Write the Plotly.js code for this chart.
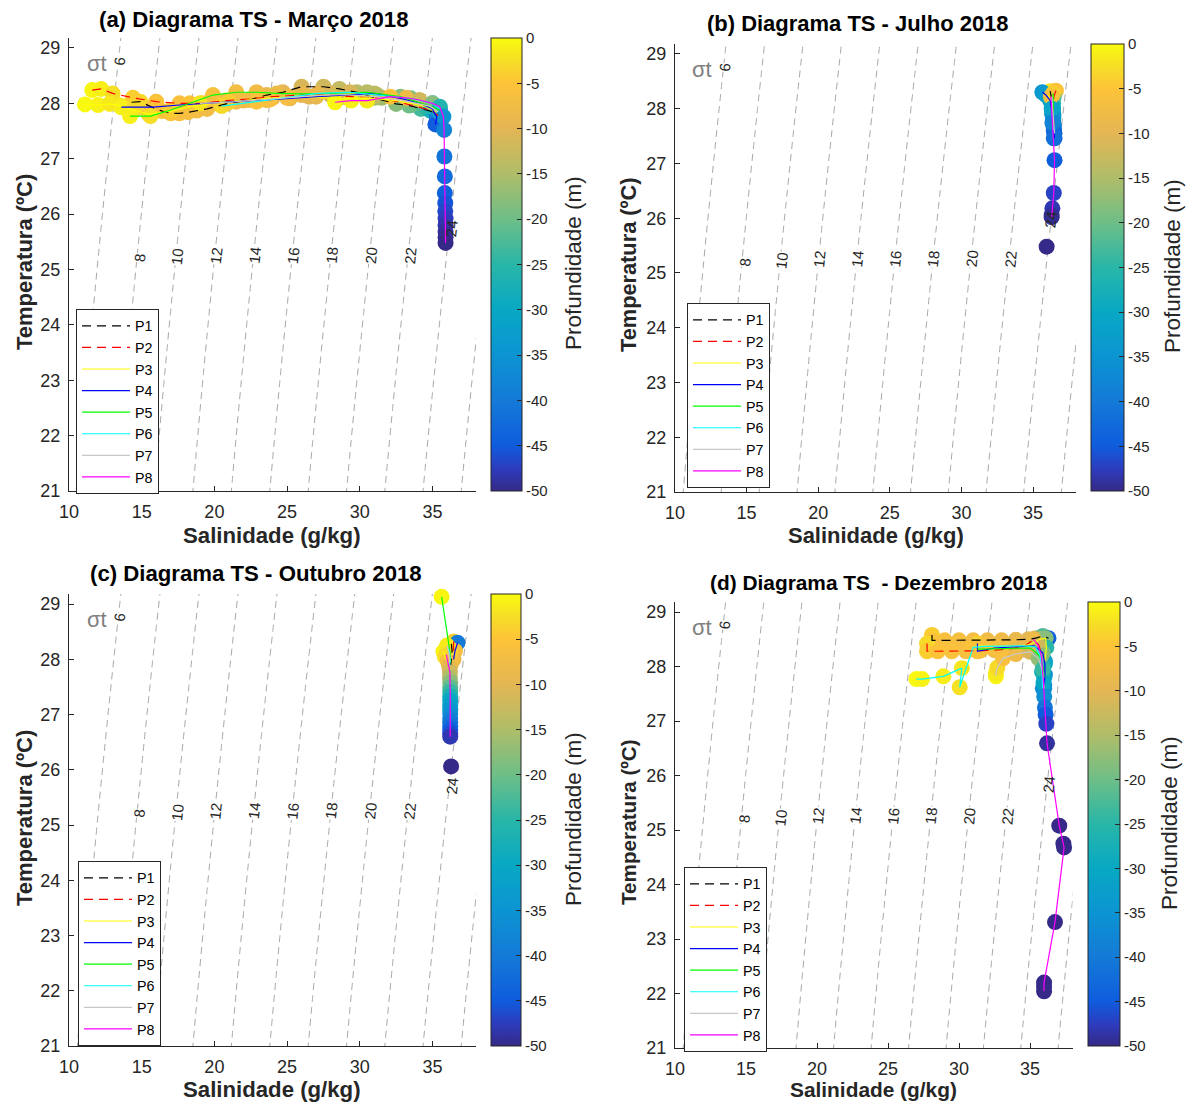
<!DOCTYPE html>
<html><head><meta charset="utf-8">
<script src="https://cdn.plot.ly/plotly-3.0.1.min.js"></script>
<style>body{margin:0;background:#fff}</style>
</head><body>
<div id="chart" style="width:1193px;height:1104px"></div>
<script>
// ---------------- DATA ----------------
const profNames = ['P1','P2','P3','P4','P5','P6','P7','P8'];
const depthTicks = [0,-5,-10,-15,-20,-25,-30,-35,-40,-45,-50];
const xTicks = [10,15,20,25,30,35];
const yTicks = [21,22,23,24,25,26,27,28,29];
const sigmaLevelStart = 6, sigmaLevelEnd = 26, sigmaLevelStep = 2;
const labText = ['6','8','10','12','14','16','18','20','22'];
const labS = [13.45,14.85,17.45,20.1,22.75,25.4,28.05,30.75,33.45];
const labT = [28.76,25.2,25.23,25.26,25.26,25.26,25.26,25.26,25.26];
const lab24S = [36.34,36.26,36.34,36.34];
const lab24T = [25.75,25.97,25.72,25.83];
const panelTitles = ['(a) Diagrama TS - Março 2018','(b) Diagrama TS - Julho 2018','(c) Diagrama TS - Outubro 2018','(d) Diagrama TS\u00a0 - Dezembro 2018'];

// Março 2018
const S_mar_P1 = [14.3,14.9,15.8,16.4,17.0,17.6,18.2,18.8,19.5,20.8,22.4,23.6,24.7,26.0,27.5,28.6,29.8,31.0,32.5,33.4,34.2,35.0,35.3];
const T_mar_P1 = [28.02,28.03,27.92,27.86,27.82,27.82,27.84,27.87,27.90,27.99,28.06,28.15,28.20,28.30,28.30,28.26,28.20,28.10,27.99,27.96,27.90,27.85,27.78];
const D_mar_P1 = [-2,-3,-4,-5,-5.5,-6,-6.5,-7,-7.5,-8,-8.5,-9,-10,-11,-12,-13,-14,-16,-18,-20,-23,-28,-33];
const S_mar_P2 = [11.6,12.2,13.0,14.4,16.0,17.6,19.2,20.8,22.5,24.0,26.0,28.0,29.5,31.5,33.5,34.8,35.4];
const T_mar_P2 = [28.24,28.26,28.18,28.10,28.03,28.00,28.00,28.05,28.08,28.12,28.15,28.15,28.12,28.10,27.97,27.88,27.78];
const D_mar_P2 = [-0.5,-1,-2.5,-4,-5,-6,-6.5,-7,-7.5,-8,-9,-11,-13,-16,-20,-27,-35];
const S_mar_P3 = [11.1,12.0,12.8,13.5,14.5,15.5,17.0,18.5,20.0,22.0,24.0,26.5,28.5,30.5,32.5,34.5,35.3];
const T_mar_P3 = [27.98,27.97,27.99,27.96,27.88,27.80,27.86,27.95,28.00,28.05,28.10,28.12,28.08,28.10,28.05,27.95,27.84];
const D_mar_P3 = [-0.3,-0.8,-1.5,-2,-3,-4.5,-5.5,-6.5,-7,-7.5,-8.5,-10,-12,-14,-18,-25,-34];
const S_mar_P4 = [13.6,14.5,15.8,17.6,19.7,21.5,23.6,25.2,27.0,29.0,31.0,32.8,34.2,35.0,35.3,35.2];
const T_mar_P4 = [27.93,27.93,27.93,27.97,28.00,28.03,28.06,28.09,28.12,28.15,28.18,28.09,28.00,27.90,27.75,27.62];
const D_mar_P4 = [-1,-3,-5,-6,-7,-7.5,-8,-9,-10,-12,-14,-18,-22,-30,-40,-45];
const S_mar_P5 = [14.2,15.6,17.0,18.3,19.9,21.5,22.9,24.3,26.1,28.0,30.5,32.8,34.6,35.5];
const T_mar_P5 = [27.77,27.77,27.88,28.00,28.15,28.20,28.20,28.18,28.17,28.18,28.20,28.12,27.97,27.88];
const D_mar_P5 = [-1,-2.5,-4,-5,-6,-7,-7.5,-8,-9,-11,-14,-18,-24,-32];
const S_mar_P6 = [20.5,22.9,23.8,25.2,27.1,29.3,31.2,33.5,35.0,35.5];
const T_mar_P6 = [27.95,28.03,28.07,28.12,28.18,28.20,28.15,28.09,28.00,27.90];
const D_mar_P6 = [-3,-5,-6,-7,-9,-11,-14,-19,-27,-36];
const S_mar_P7 = [19.0,21.0,23.0,25.0,27.0,29.0,31.0,33.0,34.8,35.4];
const T_mar_P7 = [28.00,28.02,28.06,28.10,28.14,28.16,28.12,28.05,27.95,27.85];
const D_mar_P7 = [-2,-4,-5.5,-7,-9,-11,-14,-18,-26,-34];
const S_mar_P8 = [28.3,29.4,30.5,32.1,33.2,34.1,35.0,35.5,35.75,35.8,35.82,35.85,35.85,35.88,35.88,35.9,35.9,35.9,35.9,35.9];
const T_mar_P8 = [28.02,28.05,28.05,28.12,28.10,28.06,28.00,27.94,27.76,27.52,27.04,26.68,26.38,26.20,26.05,25.92,25.80,25.68,25.58,25.48];
const D_mar_P8 = [-0.5,-1,-1.5,-5,-8,-12,-18,-26,-35,-38,-41,-42.5,-44,-45.5,-46.5,-47.5,-48.3,-49,-49.5,-50];

// Julho 2018
const S_jul_P1 = [36.2,36.25,36.3,36.35,36.4,36.45];
const T_jul_P1 = [28.32,28.25,28.10,27.95,27.80,27.65];
const D_jul_P1 = [-2,-8,-25,-32,-36,-40];
const S_jul_P2 = [36.6,36.45,36.4,36.42,36.45];
const T_jul_P2 = [28.33,28.22,28.00,27.85,27.70];
const D_jul_P2 = [-5,-22,-30,-35,-39];
const S_jul_P3 = [36.05,36.15,36.3,36.35,36.4];
const T_jul_P3 = [28.25,28.22,28.10,27.90,27.75];
const D_jul_P3 = [-0.5,-6,-28,-34,-38];
const S_jul_P4 = [35.65,35.9,36.2,36.35,36.45,36.5];
const T_jul_P4 = [28.30,28.25,28.15,27.90,27.60,27.46];
const D_jul_P4 = [-34,-33,-31,-37,-42,-45];
const S_jul_P5 = [36.4,36.4,36.42,36.42];
const T_jul_P5 = [28.28,28.10,27.90,27.70];
const D_jul_P5 = [-4,-25,-33,-38];
const S_jul_P6 = [36.3,36.35,36.4,36.45];
const T_jul_P6 = [28.20,28.00,27.80,27.60];
const D_jul_P6 = [-10,-30,-36,-41];
const S_jul_P7 = [36.3,36.35,36.4,36.5];
const T_jul_P7 = [28.22,28.05,27.85,27.55];
const D_jul_P7 = [-8,-29,-35,-43];
const S_jul_P8 = [36.25,36.3,36.35,36.45,36.5,36.45,36.35,36.3,36.3];
const T_jul_P8 = [28.22,28.00,27.75,27.46,27.06,26.46,26.18,26.06,26.02];
const D_jul_P8 = [-6,-31,-38,-42,-45,-47,-48,-49,-49.5];
const S_jul_X = [35.95];
const T_jul_X = [25.48];
const D_jul_X = [-50];

// Outubro 2018
const S_out_P1 = [36.3,36.35,36.3,36.25];
const T_out_P1 = [28.28,28.15,28.00,27.90];
const D_out_P1 = [-3,-5,-7,-9];
const S_out_P2 = [36.45,36.45,36.35];
const T_out_P2 = [28.32,28.18,28.05];
const D_out_P2 = [-4,-6,-8];
const S_out_P3 = [35.75,35.85,36.1];
const T_out_P3 = [28.14,28.05,27.95];
const D_out_P3 = [-0.5,-2,-6];
const S_out_P4 = [36.72,36.55,36.45];
const T_out_P4 = [28.30,28.15,28.00];
const D_out_P4 = [-40,-6,-8];
const S_out_P5 = [35.63,36.2,36.25];
const T_out_P5 = [29.13,28.14,27.95];
const D_out_P5 = [-0.5,-3,-6];
const S_out_P6 = [36.1,36.2,36.2];
const T_out_P6 = [28.20,28.05,27.90];
const D_out_P6 = [-2,-5,-8];
const S_out_P7 = [36.0,36.15,36.2];
const T_out_P7 = [28.25,28.10,27.95];
const D_out_P7 = [-1.5,-4,-7];
const S_out_P8 = [35.95,36.05,36.15,36.2,36.2,36.22,36.22,36.22,36.22,36.22,36.22,36.22,36.22,36.22,36.22,36.22,36.22,36.22,36.22];
const T_out_P8 = [28.08,27.97,27.87,27.77,27.67,27.58,27.49,27.41,27.33,27.25,27.17,27.09,27.01,26.93,26.86,26.79,26.72,26.66,26.60];
const D_out_P8 = [-3,-6,-9,-12,-15,-18,-21,-24,-27,-30,-32,-34,-36,-38,-40,-42,-44,-46,-48];
const S_out_X = [36.28];
const T_out_X = [26.06];
const D_out_X = [-50];

// Dezembro 2018
const S_dez_P1 = [28.1,28.1,29.0,30.0,31.0,32.0,33.0,34.0,34.9,35.4,35.9,36.3];
const T_dez_P1 = [28.58,28.48,28.48,28.48,28.48,28.48,28.48,28.49,28.50,28.52,28.56,28.52];
const D_dez_P1 = [-4,-5,-6,-6.5,-7,-7.5,-8,-9,-10,-13,-22,-44];
const S_dez_P2 = [27.75,27.75,28.5,29.5,30.5,31.5,32.5,33.5,34.5,35.2,35.6,35.8];
const T_dez_P2 = [28.42,28.28,28.28,28.28,28.28,28.29,28.30,28.32,28.36,28.48,28.40,28.25];
const D_dez_P2 = [-3,-4,-5,-5.5,-6,-7,-8,-9,-11,-14,-18,-23];
const S_dez_P3 = [31.2,32.0,33.0,34.0,35.0,35.7,36.1,36.15,36.05];
const T_dez_P3 = [28.38,28.37,28.37,28.37,28.40,28.50,28.52,28.35,28.10];
const D_dez_P3 = [-4,-5,-6,-7,-9,-13,-18,-25,-32];
const S_dez_P4 = [31.3,31.3,32.5,34.0,35.3,35.9,36.05,36.05,36.0];
const T_dez_P4 = [28.42,28.28,28.34,28.36,28.38,28.25,28.05,27.85,27.65];
const D_dez_P4 = [-4,-5,-6,-8,-11,-20,-30,-36,-40];
const S_dez_P5 = [31.3,33.0,35.0,35.6,35.9,36.0];
const T_dez_P5 = [28.32,28.33,28.34,28.22,28.00,27.80];
const D_dez_P5 = [-5,-7,-10,-16,-26,-33];
const S_dez_P6 = [27.0,27.4,28.9,30.2,30.05,31.0,31.8,33.0,34.5,35.4,35.7,35.85,35.9];
const T_dez_P6 = [27.77,27.77,27.82,27.97,27.62,28.35,28.37,28.38,28.38,28.36,28.20,27.90,27.60];
const D_dez_P6 = [-0.3,-0.8,-1.2,-1.8,-2.2,-5,-6,-7,-9,-13,-19,-28,-36];
const S_dez_P7 = [32.6,32.6,32.7,33.1,34.0,35.0,35.6,35.9,36.0];
const T_dez_P7 = [27.82,27.88,27.98,28.15,28.23,28.27,28.15,27.90,27.60];
const D_dez_P7 = [-0.5,-1.5,-3,-6,-8,-11,-17,-27,-36];
const S_dez_P8 = [35.25,35.55,35.8,35.9,35.95,36.0,36.05,36.1,36.15,36.2,37.06,37.35,37.4,36.76,35.99,35.99,35.99];
const T_dez_P8 = [28.50,28.40,28.20,27.95,27.70,27.45,27.25,27.12,26.95,26.59,25.08,24.75,24.68,23.31,22.20,22.12,22.04];
const D_dez_P8 = [-8,-12,-18,-24,-30,-36,-41,-45,-47,-49,-55,-58,-59,-65,-72,-73,-74];

// ---------------- STYLE ----------------
const W = 1193, H = 1104;
const FONT = 'Liberation Sans, Arial, Helvetica, sans-serif';
const lineColors = ['#000000','#ff0000','#ffff00','#0000ff','#00ff00','#00ffff','#c8c8c8','#ff00ff'];
const lineDash = ['9px,6px','9px,6px','solid','solid','solid','solid','solid','solid'];
const parula = [
  [0,'rgb(53,42,135)'],[0.05,'rgb(45,60,190)'],[0.1,'rgb(15,92,221)'],[0.2,'rgb(20,122,215)'],
  [0.3,'rgb(12,148,210)'],[0.4,'rgb(8,168,196)'],[0.5,'rgb(40,182,168)'],[0.6,'rgb(110,190,135)'],
  [0.7,'rgb(175,189,105)'],[0.8,'rgb(228,182,84)'],[0.9,'rgb(253,195,56)'],[0.95,'rgb(246,222,38)'],[1,'rgb(249,251,14)']];
const yTop = 29.18;

const panels = [
  {sfx:'', prof:[[S_mar_P1,T_mar_P1,D_mar_P1],[S_mar_P2,T_mar_P2,D_mar_P2],[S_mar_P3,T_mar_P3,D_mar_P3],[S_mar_P4,T_mar_P4,D_mar_P4],[S_mar_P5,T_mar_P5,D_mar_P5],[S_mar_P6,T_mar_P6,D_mar_P6],[S_mar_P7,T_mar_P7,D_mar_P7],[S_mar_P8,T_mar_P8,D_mar_P8]], extra:null, fs:1,
   x0:69, x1:476.1, y0:491, y1:38, cb:{x:491,y:38,len:453,th:31}, cbt:[573,263], xt:[272,535], yt:[24,262], tt:[97,19], lg:[76,309]},
  {sfx:'2', prof:[[S_jul_P1,T_jul_P1,D_jul_P1],[S_jul_P2,T_jul_P2,D_jul_P2],[S_jul_P3,T_jul_P3,D_jul_P3],[S_jul_P4,T_jul_P4,D_jul_P4],[S_jul_P5,T_jul_P5,D_jul_P5],[S_jul_P6,T_jul_P6,D_jul_P6],[S_jul_P7,T_jul_P7,D_jul_P7],[S_jul_P8,T_jul_P8,D_jul_P8]], extra:[S_jul_X,T_jul_X,D_jul_X], fs:0.99,
   x0:675, x1:1076, y0:492, y1:44.1, cb:{x:1091,y:44,len:447,th:33}, cbt:[1173,266], xt:[876,535], yt:[628,265], tt:[705,23], lg:[687,303]},
  {sfx:'3', prof:[[S_out_P1,T_out_P1,D_out_P1],[S_out_P2,T_out_P2,D_out_P2],[S_out_P3,T_out_P3,D_out_P3],[S_out_P4,T_out_P4,D_out_P4],[S_out_P5,T_out_P5,D_out_P5],[S_out_P6,T_out_P6,D_out_P6],[S_out_P7,T_out_P7,D_out_P7],[S_out_P8,T_out_P8,D_out_P8]], extra:[S_out_X,T_out_X,D_out_X], fs:1,
   x0:69, x1:476.1, y0:1046, y1:594.1, cb:{x:491,y:594,len:452,th:30}, cbt:[573,819], xt:[272,1089], yt:[24,818], tt:[88,573], lg:[78,861]},
  {sfx:'4', prof:[[S_dez_P1,T_dez_P1,D_dez_P1],[S_dez_P2,T_dez_P2,D_dez_P2],[S_dez_P3,T_dez_P3,D_dez_P3],[S_dez_P4,T_dez_P4,D_dez_P4],[S_dez_P5,T_dez_P5,D_dez_P5],[S_dez_P6,T_dez_P6,D_dez_P6],[S_dez_P7,T_dez_P7,D_dez_P7],[S_dez_P8,T_dez_P8,D_dez_P8]], extra:null, fs:0.94,
   x0:675, x1:1072.6, y0:1048, y1:602.2, cb:{x:1088,y:602,len:444,th:32}, cbt:[1169,823], xt:[873,1089], yt:[628,822], tt:[708,582], lg:[684,867]}
];

// Isopycnal field (UNESCO EOS-80, p = 0)
function sigmaT(S, T) {
  const rw = 999.842594 + 6.793952e-2*T - 9.095290e-3*T*T + 1.001685e-4*T**3 - 1.120083e-6*T**4 + 6.536332e-9*T**5;
  const A = 8.24493e-1 - 4.0899e-3*T + 7.6438e-5*T*T - 8.2467e-7*T**3 + 5.3875e-9*T**4;
  const B = -5.72466e-3 + 1.0227e-4*T - 1.6546e-6*T*T;
  const C = 4.8314e-4;
  return rw + A*S + B*Math.pow(S,1.5) + C*S*S - 1000;
}
const gridS = [], gridT = [];
for (let s = 9; s <= 39.001; s += 0.25) gridS.push(+s.toFixed(2));
for (let t = 20.5; t <= 29.601; t += 0.1) gridT.push(+t.toFixed(2));
const gridZ = gridT.map(t => gridS.map(s => sigmaT(s, t)));

const traces = [];
const layout = {
  width: W, height: H, margin:{l:0,r:0,t:0,b:0}, paper_bgcolor:'#fff', plot_bgcolor:'#fff',
  font:{family:FONT, color:'#262626'}, showlegend:true, annotations:[], hovermode:false
};
const pxX = x => x / W, pxY = y => 1 - y / H;

panels.forEach((p, k) => {
  const xa = 'x' + p.sfx, ya = 'y' + p.sfx;
  const legId = k === 0 ? 'legend' : 'legend' + (k + 1);
  traces.push({type:'contour', x:gridS, y:gridT, z:gridZ, xaxis:xa, yaxis:ya, autocontour:false,
    contours:{start:sigmaLevelStart, end:sigmaLevelEnd, size:sigmaLevelStep, coloring:'none', showlabels:false},
    line:{color:'#a8a8a8', width:1, dash:'7px,5px', smoothing:1}, showscale:false, hoverinfo:'skip', showlegend:false});
  p.prof.forEach((d, i) => {
    traces.push({type:'scatter', mode:'markers', x:d[0], y:d[1], xaxis:xa, yaxis:ya, showlegend:false, cliponaxis:false,
      marker:{size:16, color:d[2], colorscale:parula, cmin:-50, cmax:0, line:{width:0}, showscale:false}});
  });
  if (p.extra) {
    traces.push({type:'scatter', mode:'markers', x:p.extra[0], y:p.extra[1], xaxis:xa, yaxis:ya, showlegend:false, cliponaxis:false,
      marker:{size:16, color:p.extra[2], colorscale:parula, cmin:-50, cmax:0, line:{width:0}, showscale:false}});
  }
  const cbTrace = traces[traces.length - 1];
  cbTrace.marker.showscale = true;
  cbTrace.marker.colorbar = {
    x:pxX(p.cb.x), xanchor:'left', xref:'paper', y:pxY(p.cb.y), yanchor:'top', yref:'paper',
    len:p.cb.len, lenmode:'pixels', thickness:p.cb.th, thicknessmode:'pixels', xpad:0, ypad:0,
    outlinewidth:1, outlinecolor:'#262626', ticks:'inside', ticklen:5, tickcolor:'#262626',
    tickmode:'array', tickvals:depthTicks, ticktext:depthTicks.map(v => String(v)),
    tickfont:{size:15, color:'#262626', family:FONT}
  };
  p.prof.forEach((d, i) => {
    traces.push({type:'scatter', mode:'lines', x:d[0], y:d[1], xaxis:xa, yaxis:ya, name:profNames[i],
      legend:legId, line:{color:lineColors[i], width:1.2, dash:lineDash[i]}});
  });
  const axName = k === 0 ? '' : String(k + 1);
  layout['xaxis' + axName] = {domain:[pxX(p.x0), pxX(p.x1)], range:[10,38], anchor:ya, tickmode:'array', tickvals:xTicks,
    ticks:'inside', ticklen:5, tickcolor:'#262626', showline:true, linecolor:'#262626', linewidth:1, showgrid:false,
    zeroline:false, tickfont:{size:18, color:'#262626'}, fixedrange:true, ticklabelstandoff:4};
  layout['yaxis' + axName] = {domain:[pxY(p.y0), pxY(p.y1)], range:[21,yTop], anchor:xa, tickmode:'array', tickvals:yTicks,
    ticks:'inside', ticklen:5, tickcolor:'#262626', showline:true, linecolor:'#262626', linewidth:1, showgrid:false,
    zeroline:false, tickfont:{size:18, color:'#262626'}, fixedrange:true, ticklabelstandoff:4};
  layout[legId] = {x:pxX(p.lg[0]), y:pxY(p.lg[1]), xanchor:'left', yanchor:'top', xref:'paper', yref:'paper',
    bgcolor:'#fff', bordercolor:'#262626', borderwidth:1, font:{size:14.3, color:'#000', family:FONT},
    itemwidth:48, tracegroupgap:0};
  const A = layout.annotations;
  A.push({xref:'paper', yref:'paper', x:pxX(p.tt[0]), y:pxY(p.tt[1]), xanchor:'left', yanchor:'middle', showarrow:false,
    text:'<b>' + panelTitles[k] + '</b>', font:{size:22.2*p.fs, color:'#000', family:FONT}});
  A.push({xref:'paper', yref:'paper', x:pxX(p.xt[0]), y:pxY(p.xt[1]), xanchor:'center', yanchor:'middle', showarrow:false,
    text:'<b>Salinidade (g/kg)</b>', font:{size:22.2*p.fs, color:'#262626', family:FONT}});
  A.push({xref:'paper', yref:'paper', x:pxX(p.yt[0]), y:pxY(p.yt[1]), xanchor:'center', yanchor:'middle', showarrow:false,
    textangle:-90, text:'<b>Temperatura (ºC)</b>', font:{size:22*p.fs, color:'#262626', family:FONT}});
  A.push({xref:'paper', yref:'paper', x:pxX(p.cbt[0]), y:pxY(p.cbt[1]), xanchor:'center', yanchor:'middle', showarrow:false,
    textangle:-90, text:'Profundidade (m)', font:{size:22.5, color:'#262626', family:FONT}});
  A.push({xref:xa, yref:ya, x:11.9, y:28.72, xanchor:'center', yanchor:'middle', showarrow:false,
    text:'σt', font:{size:22, color:'#808080', family:FONT}});
  labText.forEach((t, j) => {
    A.push({xref:xa, yref:ya, x:labS[j], y:labT[j], xanchor:'center', yanchor:'middle', showarrow:false,
      textangle:-84, text:t, bgcolor:'#fff', borderpad:0, font:{size:15, color:'#262626', family:FONT}});
  });
  A.push({xref:xa, yref:ya, x:lab24S[k], y:lab24T[k], xanchor:'center', yanchor:'middle', showarrow:false,
    textangle:-84, text:'24', borderpad:0, font:{size:15, color:'#262626', family:FONT}});
});

Plotly.newPlot('chart', traces, layout, {staticPlot:true, displayModeBar:false});
</script>
</body></html>
